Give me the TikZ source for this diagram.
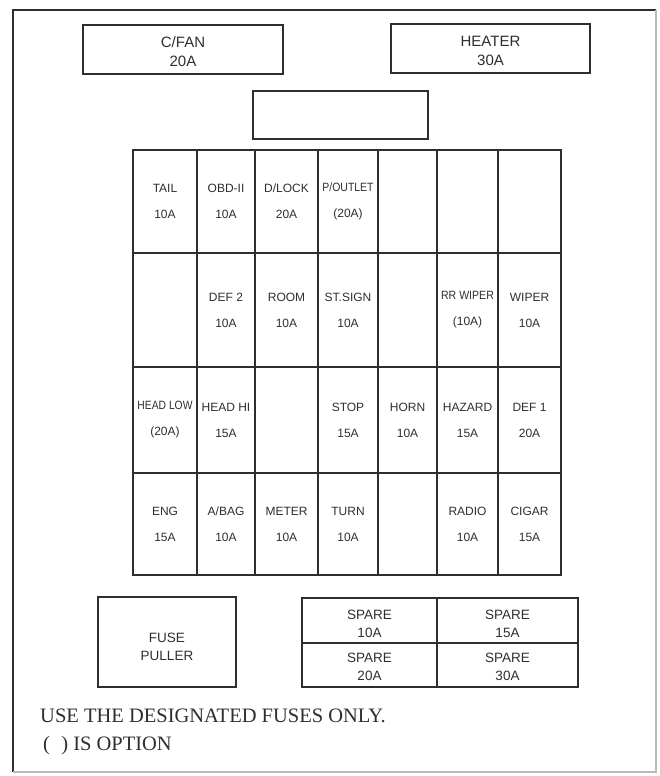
\documentclass[tikz,border=0pt]{standalone}
\usepackage{fontspec}
\setmainfont{Liberation Sans}
\newfontfamily\notefont{Liberation Serif}
\definecolor{ink}{gray}{0.18}
\newcommand\fusecell[6]{\node[cell, minimum width=#4pt, minimum height=#5pt] (#1) at (#2,#3) {#6};}
\newcommand\narrow[2]{\scalebox{#1}[1]{#2}}
\begin{document}
\begin{tikzpicture}[x=1pt,y=-1pt,
  box/.style={draw=ink, line width=1.6pt, inner sep=0pt, outer sep=0pt, align=center, text=ink},
  topbox/.style={box},
  toptext/.style={inner sep=0pt, align=center, text=ink, font=\fontsize{15}{19}\selectfont},
  lowbox/.style={box, line width=1.4pt},
  lowtext/.style={inner sep=0pt, align=center, text=ink, font=\fontsize{13.5}{18}\selectfont},
  cell/.style={draw=ink, line width=1.3pt, inner sep=0pt, outer sep=0pt, align=center, text=ink, font=\fontsize{12}{26}\selectfont},
  note/.style={anchor=base west, inner sep=0pt, text=ink, font=\notefont\fontsize{20.5}{24}\selectfont}
]
\useasboundingbox (0,0) rectangle (659,776);
% outer frame
\coordinate (fTL) at (13,10);
\coordinate (fTR) at (656,10);
\coordinate (fBL) at (13,772);
\coordinate (fBR) at (656,772);
\draw[ink, line width=1.8pt] (fBL) -- (fTL) -- (fTR);
\draw[gray!55, line width=1.4pt] (fTR) -- (fBR) -- (fBL);

% top boxes
\node[topbox, minimum width=200pt, minimum height=49pt] (cfan) at (183,49.5) {};
\node[toptext] (cfantext) at ([yshift=-2pt]cfan.center) {C/FAN\\20A};
\node[topbox, minimum width=199pt, minimum height=49pt] (heater) at (490.5,48.5) {};
\node[toptext] (heatertext) at ([yshift=-2pt]heater.center) {HEATER\\30A};
\node[box, minimum width=175pt, minimum height=48pt] (blank) at (340.5,115) {};

% fuse grid: columns 133,197,255,318,378,437,498,561 ; rows 150,253,367,473,575
% row 1
\fusecell{a1}{165}{201.5}{64}{103}{TAIL\\10A}
\fusecell{a2}{226}{201.5}{58}{103}{OBD-II\\10A}
\fusecell{a3}{286.5}{201.5}{63}{103}{D/LOCK\\20A}
\fusecell{a4}{348}{201.5}{60}{103}{\narrow{0.87}{P/OUTLET}\\(20A)}
\fusecell{a5}{407.5}{201.5}{59}{103}{}
\fusecell{a6}{467.5}{201.5}{61}{103}{}
\fusecell{a7}{529.5}{201.5}{63}{103}{}
% row 2
\fusecell{b1}{165}{310}{64}{114}{}
\fusecell{b2}{226}{310}{58}{114}{DEF 2\\10A}
\fusecell{b3}{286.5}{310}{63}{114}{ROOM\\10A}
\fusecell{b4}{348}{310}{60}{114}{ST.SIGN\\10A}
\fusecell{b5}{407.5}{310}{59}{114}{}
\fusecell{b6}{467.5}{310}{61}{114}{\narrow{0.88}{RR WIPER}\\(10A)}
\fusecell{b7}{529.5}{310}{63}{114}{WIPER\\10A}
% row 3
\fusecell{c1}{165}{420}{64}{106}{\narrow{0.86}{HEAD LOW}\\(20A)}
\fusecell{c2}{226}{420}{58}{106}{HEAD HI\\15A}
\fusecell{c3}{286.5}{420}{63}{106}{}
\fusecell{c4}{348}{420}{60}{106}{STOP\\15A}
\fusecell{c5}{407.5}{420}{59}{106}{HORN\\10A}
\fusecell{c6}{467.5}{420}{61}{106}{HAZARD\\15A}
\fusecell{c7}{529.5}{420}{63}{106}{DEF 1\\20A}
% row 4
\fusecell{d1}{165}{524}{64}{102}{ENG\\15A}
\fusecell{d2}{226}{524}{58}{102}{A/BAG\\10A}
\fusecell{d3}{286.5}{524}{63}{102}{METER\\10A}
\fusecell{d4}{348}{524}{60}{102}{TURN\\10A}
\fusecell{d5}{407.5}{524}{59}{102}{}
\fusecell{d6}{467.5}{524}{61}{102}{RADIO\\10A}
\fusecell{d7}{529.5}{524}{63}{102}{CIGAR\\15A}

% fuse puller
\node[lowbox, minimum width=138pt, minimum height=90pt] (puller) at (167,642) {};
\node[lowtext] (pullertext) at ([yshift=-5pt]puller.center) {FUSE\\PULLER};

% spare fuses
\node[lowbox, minimum width=135pt, minimum height=45pt] (s1) at (369.5,620.5) {};
\node[lowbox, minimum width=141pt, minimum height=45pt] (s2) at (507.5,620.5) {};
\node[lowbox, minimum width=135pt, minimum height=44pt] (s3) at (369.5,665) {};
\node[lowbox, minimum width=141pt, minimum height=44pt] (s4) at (507.5,665) {};
\node[lowtext] (s1text) at ([yshift=-3pt]s1.center) {SPARE\\10A};
\node[lowtext] (s2text) at ([yshift=-3pt]s2.center) {SPARE\\15A};
\node[lowtext] (s3text) at ([yshift=-2pt]s3.center) {SPARE\\20A};
\node[lowtext] (s4text) at ([yshift=-2pt]s4.center) {SPARE\\30A};

% notes
\node[note] (note1) at (40,722) {USE THE DESIGNATED FUSES ONLY.};
\node[note] (note2) at (43,750) {(\hspace{0.55em}) IS OPTION};
\end{tikzpicture}
\end{document}
